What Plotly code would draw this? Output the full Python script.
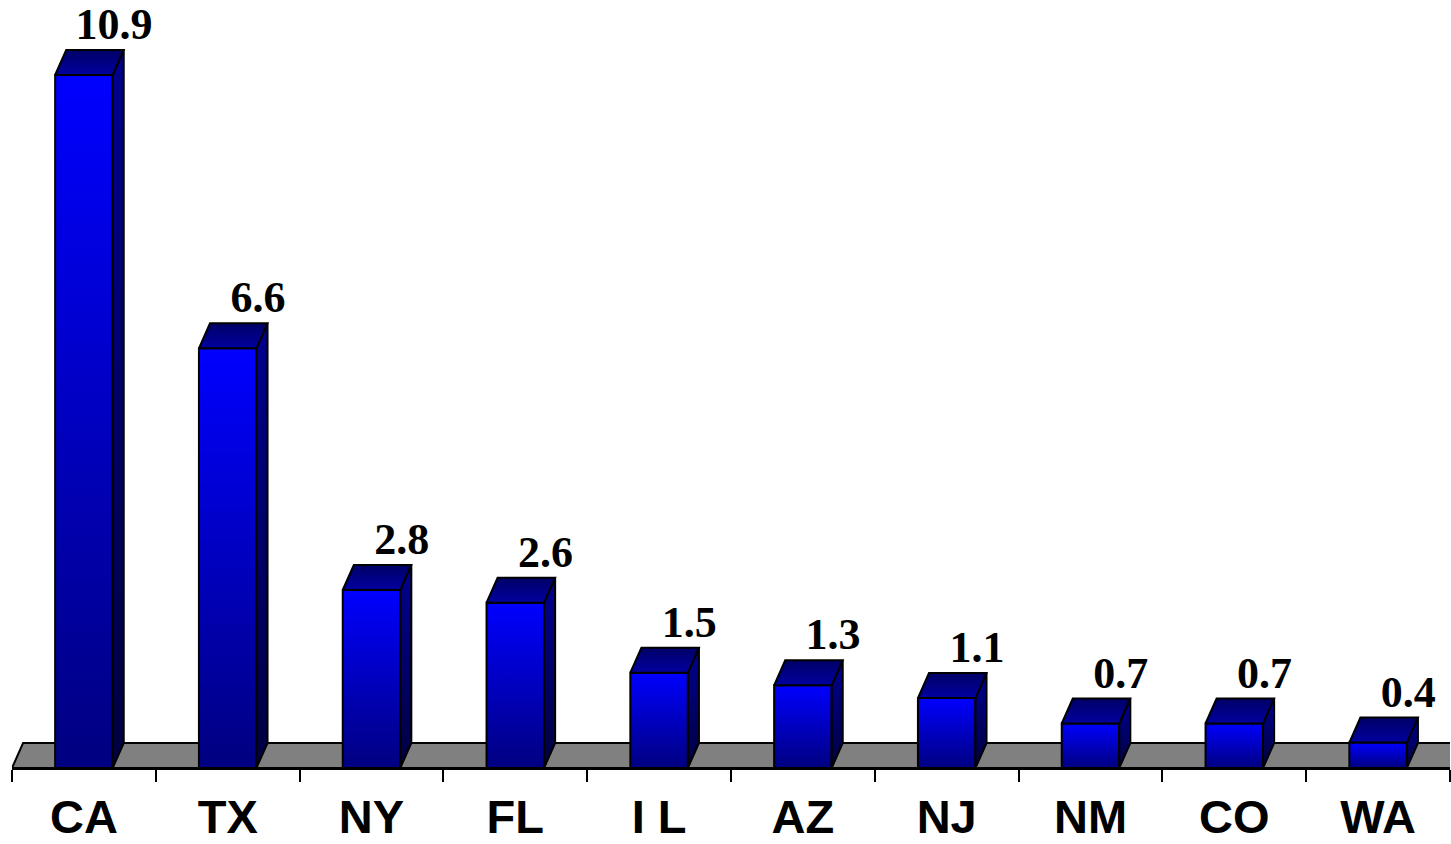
import plotly.graph_objects as go

states = ["CA", "TX", "NY", "FL", "I L", "AZ", "NJ", "NM", "CO", "WA"]
values = [10.9, 6.6, 2.8, 2.6, 1.5, 1.3, 1.1, 0.7, 0.7, 0.4]
value_labels = ["10.9", "6.6", "2.8", "2.6", "1.5", "1.3", "1.1", "0.7", "0.7", "0.4"]

# geometry (data units)
HALF_W = 0.2
DX = 0.077
DY = 0.393
Y_MAX = 12.0
n = len(states)

fig = go.Figure()

# floor
fx = [-0.5, n - 0.5 + 1, n - 0.5 + 1, -0.5 + DX, -0.5]
fy = [0, 0, DY, DY, 0]
fig.add_trace(go.Scatter(x=fx, y=fy, mode="lines", fill="toself",
                         fillcolor="#808080", line=dict(color="black", width=2),
                         hoverinfo="skip", showlegend=False))

for i, v in enumerate(values):
    x0, x1 = i - HALF_W, i + HALF_W
    # front face
    fig.add_trace(go.Scatter(
        x=[x0, x1, x1, x0, x0], y=[0, 0, v, v, 0], mode="lines", fill="toself",
        fillgradient=dict(type="vertical", colorscale=[[0, "#000080"], [1, "#0000FF"]]),
        line=dict(color="black", width=2), hoverinfo="skip", showlegend=False))
    # side face
    fig.add_trace(go.Scatter(
        x=[x1, x1 + DX, x1 + DX, x1, x1], y=[0, DY, v + DY, v, 0], mode="lines", fill="toself",
        fillgradient=dict(type="vertical", colorscale=[[0, "#000040"], [1, "#000090"]]),
        line=dict(color="black", width=2), hoverinfo="skip", showlegend=False))
    # top face
    fig.add_trace(go.Scatter(
        x=[x0, x1, x1 + DX, x0 + DX, x0], y=[v, v, v + DY, v + DY, v], mode="lines", fill="toself",
        fillgradient=dict(type="vertical", colorscale=[[0, "#0000A0"], [1, "#000066"]]),
        line=dict(color="black", width=2), hoverinfo="skip", showlegend=False))

# value labels
fig.add_trace(go.Scatter(
    x=[i + 0.21 for i in range(n)], y=[v + DY for v in values], mode="text",
    text=value_labels, textposition="top center",
    textfont=dict(family="Liberation Serif", size=44, color="black", weight="bold"),
    cliponaxis=False, hoverinfo="skip", showlegend=False))

fig.update_layout(
    width=1451, height=844,
    margin=dict(l=12, r=1, t=5, b=76),
    paper_bgcolor="white", plot_bgcolor="white",
    showlegend=False,
    xaxis=dict(
        range=[-0.5, n - 0.5], showgrid=False, zeroline=False,
        showline=True, linecolor="black", linewidth=2,
        tickmode="array", tickvals=list(range(n)), ticktext=states,
        ticks="", ticklabelstandoff=7, automargin=False,
        tickfont=dict(family="Liberation Sans", size=47, color="black", weight="bold"),
        minor=dict(tickmode="array", tickvals=[k - 0.5 for k in range(n + 1)],
                   ticks="outside", ticklen=12, tickwidth=2, tickcolor="black"),
        fixedrange=True,
    ),
    yaxis=dict(range=[0, Y_MAX], visible=False, fixedrange=True, automargin=False),
)

fig.write_html("out.html", post_script="document.body.style.margin='0';",
               config={"displayModeBar": False})
